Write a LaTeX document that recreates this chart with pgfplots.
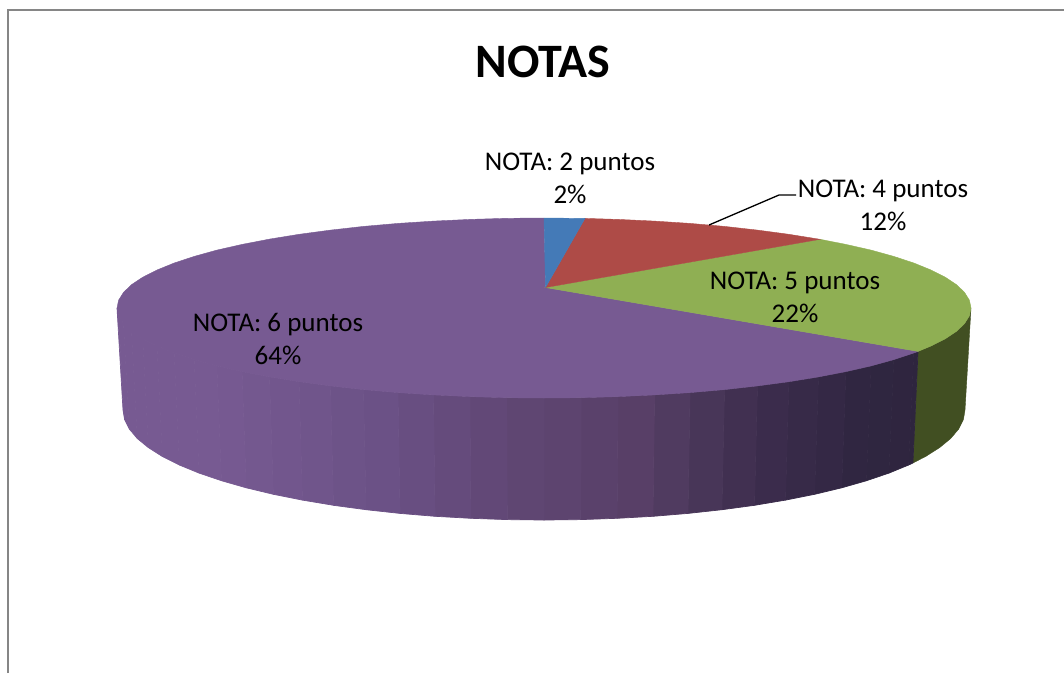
\documentclass[border=0pt]{standalone}
\usepackage{pgfplots}
\pgfplotsset{compat=1.18}
\usepackage{fontspec}
\setmainfont{Carlito}
\definecolor{pblue}{RGB}{68,122,183}
\definecolor{pred}{RGB}{174,75,71}
\definecolor{pgreen}{RGB}{143,175,83}
\definecolor{ppurple}{RGB}{119,90,146}
\definecolor{dgreen}{RGB}{65,79,34}
\definecolor{frame}{RGB}{134,134,134}
\begin{document}
\begin{tikzpicture}
\begin{axis}[
  width=1064pt,height=673pt,scale only axis,
  xmin=0,xmax=1064,ymin=0,ymax=673,y dir=reverse,
  hide axis,clip=true,
  colormap={side}{rgb255(120)=(119,90,146) rgb255(220)=(119,90,146) rgb255(380)=(107,81,134) rgb255(520)=(95,70,115) rgb255(640)=(88,63,103) rgb255(680)=(78,58,94) rgb255(760)=(60,45,77) rgb255(860)=(48,38,65) rgb255(920)=(46,37,62)},
  point meta min=120,point meta max=920,
]
% page extent
\addplot[fill=white,draw=none] coordinates {(0,0)(1064,0)(1064,673)(0,673)} -- cycle;
% chart frame
\addplot[frame,line width=2pt] coordinates {(7.5,673)(7.5,10)(1064,10)};
% green side
\addplot[fill=dgreen,draw=dgreen] coordinates {
(971,308)(969.4,315.8)(964.5,323.6)(956.5,331.3)(945.2,338.8)(931,346)(918,351.4)
(912.9,463)(925.6,456.5)(939.6,447.6)(950.7,438.5)(958.6,429.1)(963.4,419.6)(965,410)} -- cycle;
% purple side
\addplot[patch,patch type=rectangle,shader=faceted,faceted color=mapped color,line width=0.7pt,point meta=x] coordinates {
(918,351.4)(913.8,353)(908.6,465)(912.9,463)
(913.8,353)(893.8,359.6)(888.9,473.1)(908.6,465)
(893.8,359.6)(871.1,365.9)(866.5,480.7)(888.9,473.1)
(871.1,365.9)(845.9,371.6)(841.7,487.8)(866.5,480.7)
(845.9,371.6)(818.5,376.9)(814.6,494.3)(841.7,487.8)
(818.5,376.9)(788.9,381.7)(785.5,500.1)(814.6,494.3)
(788.9,381.7)(757.5,385.9)(754.5,505.3)(785.5,500.1)
(757.5,385.9)(724.5,389.6)(721.9,509.7)(754.5,505.3)
(724.5,389.6)(690,392.6)(688,513.4)(721.9,509.7)
(690,392.6)(654.5,394.9)(653,516.3)(688,513.4)
(654.5,394.9)(618.1,396.6)(617.1,518.3)(653,516.3)
(618.1,396.6)(581.2,397.7)(580.7,519.6)(617.1,518.3)
(581.2,397.7)(544,398)(544,520)(580.7,519.6)
(544,398)(506.8,397.7)(507.3,519.6)(544,520)
(506.8,397.7)(469.9,396.6)(470.9,518.3)(507.3,519.6)
(469.9,396.6)(433.5,394.9)(435,516.3)(470.9,518.3)
(433.5,394.9)(398,392.6)(400,513.4)(435,516.3)
(398,392.6)(363.5,389.6)(366.1,509.7)(400,513.4)
(363.5,389.6)(330.5,385.9)(333.5,505.3)(366.1,509.7)
(330.5,385.9)(299.1,381.7)(302.5,500.1)(333.5,505.3)
(299.1,381.7)(269.5,376.9)(273.4,494.3)(302.5,500.1)
(269.5,376.9)(242.1,371.6)(246.3,487.8)(273.4,494.3)
(242.1,371.6)(216.9,365.9)(221.5,480.7)(246.3,487.8)
(216.9,365.9)(194.2,359.6)(199.1,473.1)(221.5,480.7)
(194.2,359.6)(174.2,353)(179.4,465)(199.1,473.1)
(174.2,353)(157,346)(162.4,456.5)(179.4,465)
(157,346)(142.8,338.8)(148.4,447.6)(162.4,456.5)
(142.8,338.8)(131.5,331.3)(137.3,438.5)(148.4,447.6)
(131.5,331.3)(123.5,323.6)(129.4,429.1)(137.3,438.5)
(123.5,323.6)(118.6,315.8)(124.6,419.6)(129.4,429.1)
(118.6,315.8)(117,308)(123,410)(124.6,419.6)
};
% top face: NOTA 6 puntos, 64%
\addplot[fill=ppurple,draw=ppurple] coordinates {
(545.5,287.5)(918,351.4)(913.8,353)(893.8,359.6)(871.1,365.9)(845.9,371.6)(818.5,376.9)(788.9,381.7)(757.5,385.9)(724.5,389.6)(690,392.6)(654.5,394.9)(618.1,396.6)(581.2,397.7)(544,398)
(506.8,397.7)(469.9,396.6)(433.5,394.9)(398,392.6)(363.5,389.6)(330.5,385.9)(299.1,381.7)(269.5,376.9)(242.1,371.6)(216.9,365.9)(194.2,359.6)(174.2,353)(157,346)(142.8,338.8)(131.5,331.3)(123.5,323.6)(118.6,315.8)(117,308)
(118.6,300.2)(123.5,292.4)(131.5,284.7)(142.8,277.2)(157,270)(174.2,263)(194.2,256.4)(216.9,250.1)(242.1,244.4)(269.5,239.1)(299.1,234.3)(330.5,230.1)(363.5,226.4)(398,223.4)(433.5,221.1)(469.9,219.4)(506.8,218.3)(544,218)} -- cycle;
% NOTA 5 puntos, 22%
\addplot[fill=pgreen,draw=pgreen] coordinates {
(545.5,287.5)(820,239.3)(845.9,244.4)(871.1,250.1)(893.8,256.4)(913.8,263)(931,270)(945.2,277.2)(956.5,284.7)(964.5,292.4)(969.4,300.2)(971,308)
(969.4,315.8)(964.5,323.6)(956.5,331.3)(945.2,338.8)(931,346)(918,351.4)} -- cycle;
% NOTA 4 puntos, 12%
\addplot[fill=pred,draw=pred] coordinates {
(545.5,287.5)(585,218.4)(618.1,219.4)(654.5,221.1)(690,223.4)(724.5,226.4)(757.5,230.1)(788.9,234.3)(820,239.3)} -- cycle;
% NOTA 2 puntos, 2%
\addplot[fill=pblue,draw=pblue] coordinates {(545.5,287.5)(544,218)(585,218.4)} -- cycle;
% leader line
\addplot[black,line width=1.3pt] coordinates {(709,225)(779,195)(796,195)};
% texts
\node[font=\fontsize{48}{56}\selectfont\bfseries] at (axis cs:543,62) {NOTAS};
\node[font=\fontsize{27}{33}\selectfont,align=center] at (axis cs:570,178) {NOTA: 2 puntos\\2\%};
\node[font=\fontsize{27}{33}\selectfont,align=center] at (axis cs:883,205) {NOTA: 4 puntos\\12\%};
\node[font=\fontsize{27}{33}\selectfont,align=center] at (axis cs:795,297) {NOTA: 5 puntos\\22\%};
\node[font=\fontsize{27}{33}\selectfont,align=center] at (axis cs:278,339) {NOTA: 6 puntos\\64\%};
\end{axis}
\end{tikzpicture}
\end{document}
